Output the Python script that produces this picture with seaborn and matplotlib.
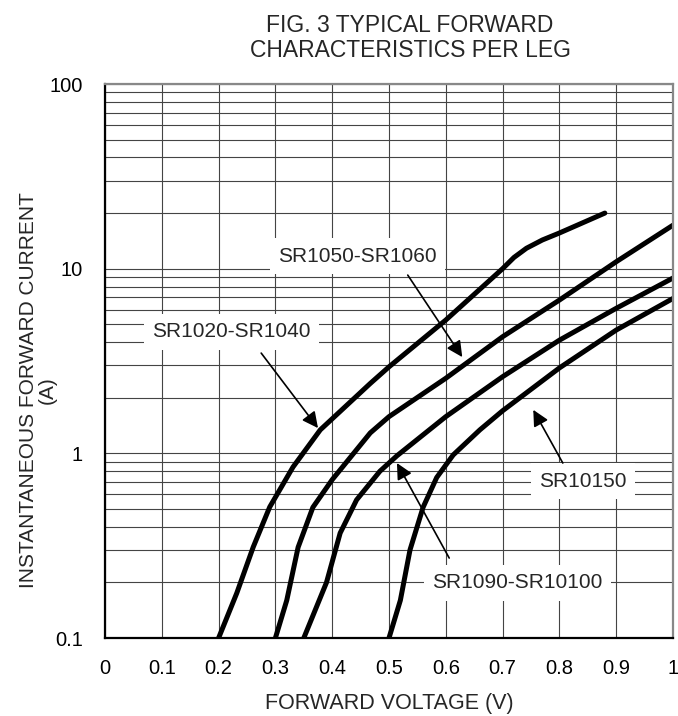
import numpy as np
import pandas as pd
import matplotlib
matplotlib.use("Agg")
import matplotlib.pyplot as plt
import matplotlib.ticker as mticker
import seaborn as sns

# curves (forward voltage V, current A)
v_2040 = [0.20, 0.232, 0.261, 0.29, 0.331, 0.379, 0.467, 0.50, 0.60, 0.70, 0.72, 0.742, 0.77, 0.80, 0.88]
i_2040 = [0.1, 0.175, 0.311, 0.512, 0.843, 1.34, 2.39, 2.94, 5.27, 10.0, 11.5, 12.9, 14.3, 15.6, 20.0]

v_5060 = [0.30, 0.32, 0.34, 0.366, 0.40, 0.467, 0.50, 0.60, 0.70, 0.80, 0.90, 1.0]
i_5060 = [0.1, 0.16, 0.31, 0.51, 0.72, 1.29, 1.58, 2.55, 4.28, 6.76, 10.9, 17.2]

v_90100 = [0.35, 0.39, 0.414, 0.443, 0.467, 0.484, 0.514, 0.60, 0.70, 0.80, 0.90, 1.0]
i_90100 = [0.1, 0.2, 0.37, 0.56, 0.69, 0.80, 0.97, 1.58, 2.6, 4.1, 6.1, 8.9]

v_150 = [0.50, 0.52, 0.537, 0.56, 0.584, 0.613, 0.66, 0.70, 0.80, 0.90, 1.0]
i_150 = [0.1, 0.16, 0.30, 0.51, 0.74, 0.98, 1.34, 1.7, 2.9, 4.65, 6.9]

x_ticks = [0, 0.1, 0.2, 0.3, 0.4, 0.5, 0.6, 0.7, 0.8, 0.9, 1]
y_ticks = [0.1, 1, 10, 100]

curves = [("SR1020-SR1040", v_2040, i_2040),
          ("SR1050-SR1060", v_5060, i_5060),
          ("SR1090-SR10100", v_90100, i_90100),
          ("SR10150", v_150, i_150)]

df = pd.concat([pd.DataFrame({"part": n, "v": v, "i": i}) for n, v, i in curves],
               ignore_index=True)

sns.set_theme(style="white")
plt.rcParams['font.family'] = ['Liberation Sans', 'DejaVu Sans']

fig = plt.figure(figsize=(6.78, 7.16), dpi=100)
ax = fig.add_axes([105 / 678, 78 / 716, 568 / 678, 554 / 716])

ax.set_yscale("log")
ax.set_xlim(0, 1)
ax.set_ylim(0.1, 100)

# grid first so curves sit on top
ax.set_xticks(x_ticks)
ax.set_xticklabels([f"{t:g}" for t in x_ticks])
ax.set_yticks(y_ticks)
ax.yaxis.set_major_formatter(mticker.FuncFormatter(lambda v, p: f"{v:g}"))
ax.yaxis.set_minor_locator(mticker.LogLocator(base=10, subs=np.arange(2, 10)))
ax.yaxis.set_minor_formatter(mticker.NullFormatter())
ax.grid(True, which="both", axis="both", color="#444444", lw=0.8)
ax.set_axisbelow(True)
ax.tick_params(axis="both", which="both", length=0, labelsize=14.5, colors="black")
ax.tick_params(axis="x", pad=15)
ax.tick_params(axis="y", pad=16)

sns.lineplot(data=df, x="v", y="i", units="part", estimator=None, sort=False,
             color="black", lw=3.6, ax=ax, legend=False)
ax.set_xlabel("")
ax.set_ylabel("")

for side in ["left", "bottom"]:
    ax.spines[side].set_color("black")
    ax.spines[side].set_linewidth(1.6)
for side in ["top", "right"]:
    ax.spines[side].set_color("#888888")
    ax.spines[side].set_linewidth(1.6)

box = dict(boxstyle="square,pad=0.4", fc="white", ec="none")
arrow = dict(arrowstyle="-|>", color="black", lw=1.2, mutation_scale=24, shrinkA=0, shrinkB=0)

ax.text(0.222, 4.54, "SR1020-SR1040", ha="center", va="center", fontsize=15, bbox=box, zorder=5)
ax.annotate("", xy=(0.375, 1.37), xytext=(0.275, 3.49), arrowprops=arrow, zorder=6)

ax.text(0.444, 11.7, "SR1050-SR1060", ha="center", va="center", fontsize=15, bbox=box, zorder=5)
ax.annotate("", xy=(0.629, 3.32), xytext=(0.533, 9.23), arrowprops=arrow, zorder=6)

ax.text(0.726, 0.199, "SR1090-SR10100", ha="center", va="center", fontsize=15, bbox=box, zorder=5)
ax.annotate("", xy=(0.514, 0.886), xytext=(0.606, 0.271), arrowprops=arrow, zorder=6)

ax.text(0.841, 0.708, "SR10150", ha="center", va="center", fontsize=15, bbox=box, zorder=5)
ax.annotate("", xy=(0.754, 1.72), xytext=(0.806, 0.886), arrowprops=arrow, zorder=6)

fig.text(410 / 678, 1 - 38 / 716, "FIG. 3 TYPICAL FORWARD\nCHARACTERISTICS PER LEG",
         ha="center", va="center", fontsize=16.5, linespacing=1.1)
fig.text(38 / 678, 1 - 390 / 716, "INSTANTANEOUS FORWARD CURRENT\n(A)",
         ha="center", va="center", rotation=90, fontsize=15, linespacing=1.0)
fig.text(389 / 678, 1 - 703 / 716, "FORWARD VOLTAGE (V)",
         ha="center", va="center", fontsize=15.5)

fig.savefig("out.png", dpi=100)
